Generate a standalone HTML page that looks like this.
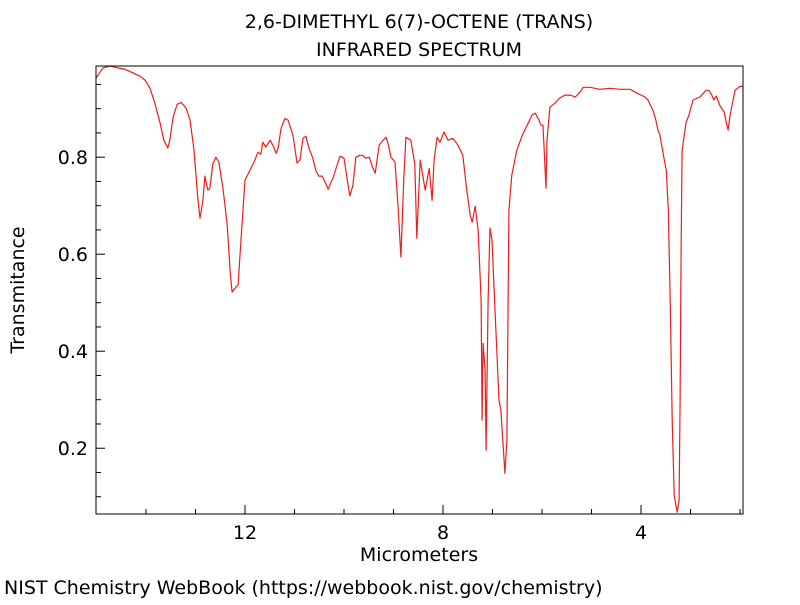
<!DOCTYPE html>
<html><head><meta charset="utf-8"><style>
body{margin:0;background:#fff;}
svg text{font-family:"DejaVu Sans","Liberation Sans",sans-serif;fill:#000;}
</style></head><body>
<svg id="chart" width="800" height="600" xmlns="http://www.w3.org/2000/svg">
<rect width="800" height="600" fill="#fff"/>
<text x="419" y="28" font-size="19" text-anchor="middle">2,6-DIMETHYL 6(7)-OCTENE (TRANS)</text>
<text x="419" y="56" font-size="19" text-anchor="middle">INFRARED SPECTRUM</text>
<text x="419" y="561" font-size="19" text-anchor="middle">Micrometers</text>
<text x="0" y="0" font-size="19" text-anchor="middle" transform="translate(24,290) rotate(-90)">Transmitance</text>
<text x="4" y="594" font-size="19">NIST Chemistry WebBook (https://webbook.nist.gov/chemistry)</text>
<g id="axes"></g>
<path id="spectrum" fill="none" stroke="#ee1c1c" stroke-width="1.2" stroke-linejoin="round"/>
<rect x="96" y="66" width="647" height="448" fill="none" stroke="#000" stroke-width="1"/>
</svg>
<script>
const wavelengths=[15.01,14.87,14.73,14.57,14.42,14.12,14.02,13.92,13.82,13.72,13.64,13.56,13.52,13.45,13.37,13.29,13.19,13.11,13.03,12.95,12.91,12.85,12.81,12.75,12.71,12.65,12.59,12.53,12.44,12.36,12.30,12.26,12.20,12.14,12.08,12.00,11.90,11.80,11.74,11.68,11.64,11.58,11.49,11.43,11.37,11.33,11.27,11.19,11.13,11.03,10.95,10.89,10.83,10.77,10.71,10.63,10.57,10.51,10.44,10.38,10.32,10.28,10.22,10.14,10.08,10.00,9.94,9.88,9.82,9.76,9.68,9.62,9.56,9.49,9.43,9.37,9.29,9.21,9.15,9.11,9.05,8.97,8.91,8.85,8.79,8.75,8.65,8.57,8.53,8.46,8.36,8.28,8.22,8.18,8.12,8.06,7.98,7.90,7.80,7.70,7.60,7.52,7.45,7.41,7.35,7.29,7.23,7.21,7.19,7.15,7.13,7.09,7.05,7.01,6.95,6.87,6.83,6.75,6.71,6.67,6.61,6.51,6.40,6.30,6.20,6.14,6.08,6.02,5.98,5.92,5.90,5.84,5.74,5.64,5.54,5.43,5.33,5.23,5.17,5.03,4.83,4.63,4.42,4.22,4.08,3.92,3.86,3.82,3.76,3.70,3.66,3.62,3.54,3.49,3.45,3.41,3.37,3.33,3.27,3.23,3.21,3.19,3.17,3.09,3.03,2.95,2.81,2.69,2.63,2.57,2.53,2.48,2.40,2.32,2.28,2.24,2.20,2.10,2.00,1.94];
const transmittance=[.963,.984,.988,.984,.981,.967,.959,.942,.911,.872,.835,.819,.835,.884,.909,.913,.901,.876,.814,.711,.674,.711,.761,.732,.736,.786,.800,.790,.732,.660,.563,.522,.530,.538,.629,.753,.773,.794,.810,.806,.831,.821,.835,.823,.808,.819,.860,.880,.876,.845,.788,.794,.839,.843,.819,.798,.773,.761,.761,.748,.734,.744,.757,.784,.802,.798,.757,.720,.742,.800,.804,.804,.798,.800,.781,.767,.825,.835,.841,.828,.800,.790,.700,.594,.760,.841,.835,.786,.633,.794,.732,.777,.711,.794,.841,.831,.852,.835,.839,.825,.804,.732,.680,.666,.699,.649,.505,.258,.416,.361,.196,.505,.654,.629,.485,.299,.278,.148,.216,.690,.763,.814,.845,.866,.887,.891,.880,.866,.866,.736,.835,.903,.911,.922,.928,.928,.924,.934,.944,.944,.940,.942,.940,.940,.932,.924,.918,.909,.897,.876,.856,.847,.800,.773,.691,.505,.258,.103,.068,.093,.299,.608,.814,.872,.887,.918,.924,.938,.938,.928,.918,.926,.905,.893,.872,.856,.887,.938,.946,.946,.944];
const xTickValues=[14,13,12,11,10,9,8,7,6,5,4,3,2];
const xTickLabels=["12","8","4"];
const yTickValues=[0.1,0.15,0.2,0.25,0.3,0.35,0.4,0.45,0.5,0.55,0.6,0.65,0.7,0.75,0.8,0.85,0.9,0.95];
const yTickLabels=["0.2","0.4","0.6","0.8"];

const L=96,R=743,T=66,B=514;
const xDom=[15.01,1.94], yDom=[0.988,0.0644];
function xs(v){return L+(xDom[0]-v)/(xDom[0]-xDom[1])*(R-L);}
function ys(v){return T+(yDom[0]-v)/(yDom[0]-yDom[1])*(B-T);}
const NS="http://www.w3.org/2000/svg";
const axes=document.getElementById('axes');
function line(x1,y1,x2,y2,name){const l=document.createElementNS(NS,'line');
l.setAttribute('x1',x1);l.setAttribute('y1',y1);l.setAttribute('x2',x2);l.setAttribute('y2',y2);
l.setAttribute('stroke','#000');l.setAttribute('stroke-width','1');


axes.appendChild(l);}
function txt(x,y,s,anchor,name){const t=document.createElementNS(NS,'text');
t.setAttribute('x',x);t.setAttribute('y',y);t.setAttribute('font-size','19');t.setAttribute('text-anchor',anchor);t.textContent=s;


axes.appendChild(t);}
xTickValues.forEach(v=>{const major=xTickLabels.includes(String(v));const x=xs(v);
line(x,B,x,B-(major?9:5),'x-tick');
if(major) txt(x,539,String(v),'middle','x-tick-label');});
yTickValues.forEach(v=>{const lab=v.toFixed(1);const major=yTickLabels.includes(lab)&&Math.abs(v*10-Math.round(v*10))<1e-6&&Math.round(v*10)%2===0;const y=ys(v);
line(L,y,L+(major?9:5),y,'y-tick');
if(major) txt(88,y+7,lab,'end','y-tick-label');});
let d='';
wavelengths.forEach((w,i)=>{d+=(i?'L':'M')+xs(w).toFixed(1)+','+ys(transmittance[i]).toFixed(1);});
document.getElementById('spectrum').setAttribute('d',d);
</script>
</body></html>
